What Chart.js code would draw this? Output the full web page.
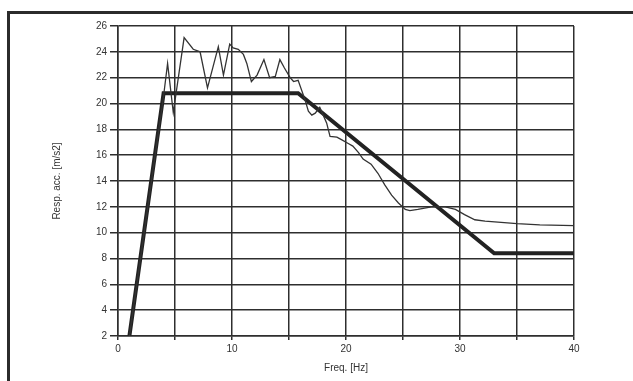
<!DOCTYPE html>
<html>
<head>
<meta charset="utf-8">
<script src="https://cdn.jsdelivr.net/npm/chart.js@4.4.1/dist/chart.umd.min.js"></script>
<style>
    body { margin: 0; background: #fff; }
    #wrap { position: relative; width: 633px; height: 381px; overflow: hidden; }
    #frame {
        position: absolute; left: 7px; top: 11px; width: 700px; height: 500px;
        border-top: 3px solid #2b2b2b; border-left: 3px solid #2b2b2b;
    }
    canvas { position: absolute; left: 0; top: 0; }
</style>
</head>
<body>
<div id="wrap">
    <div id="frame"></div>
    <canvas id="specChart" width="633" height="381"></canvas>
</div>
<script>
// Design spectrum (thick line)
const specFreq = [1, 4, 15.8, 33, 40];
const specAcc = [2, 20.8, 20.8, 8.4, 8.4];

// Response spectrum (thin line)
const respFreq = [1, 4.0, 4.35, 4.85, 5.8, 6.6, 7.2, 7.85, 8.8, 9.25, 9.8, 10.1, 10.55, 11.0, 11.3, 11.7,
    12.2, 12.8, 13.3, 13.8, 14.2, 14.6, 15.1, 15.4, 15.8, 16.4, 16.7, 17.0, 17.3, 17.7, 18.3, 18.6,
    19.2, 19.6, 20.2, 20.6, 21.1, 21.5, 22.2, 22.8, 23.4, 24.0, 24.6, 25.2, 25.6, 26.3, 27.5, 28.7,
    29.6, 30.4, 31.3, 32.2, 35, 37, 40];
const respAcc = [2, 20.6, 23.1, 19.3, 25.1, 24.2, 24.0, 21.2, 24.4, 22.2, 24.6, 24.3, 24.2, 23.8, 23.1, 21.7,
    22.2, 23.4, 22.0, 22.1, 23.4, 22.75, 22.0, 21.7, 21.8, 20.3, 19.4, 19.1, 19.25, 19.7, 18.5, 17.45,
    17.4, 17.2, 16.9, 16.7, 16.2, 15.7, 15.3, 14.6, 13.7, 12.9, 12.3, 11.8, 11.7, 11.8, 12.0, 12.0,
    11.8, 11.4, 11.0, 10.9, 10.7, 10.6, 10.55];

// Axis ticks
const xTickLabels = [0, 10, 20, 30, 40];
const yTicks = [2, 4, 6, 8, 10, 12, 14, 16, 18, 20, 22, 24, 26];

function toPoints(xs, ys) {
    return xs.map((x, i) => ({ x: x, y: ys[i] }));
}

const gridColor = '#2e2e2e';
const labelFont = { family: 'Liberation Sans', size: 10 };

new Chart(document.getElementById('specChart').getContext('2d'), {
    type: 'scatter',
    data: {
        datasets: [
            {
                label: 'Response',
                data: toPoints(respFreq, respAcc),
                showLine: true,
                borderColor: '#333',
                borderWidth: 1.3,
                pointRadius: 0,
                tension: 0
            },
            {
                label: 'Spectrum',
                data: toPoints(specFreq, specAcc),
                showLine: true,
                borderColor: '#222',
                borderWidth: 4,
                pointRadius: 0,
                tension: 0
            }
        ]
    },
    options: {
        responsive: false,
        animation: false,
        layout: { padding: { left: 0, top: 26, right: 59, bottom: 0 } },
        plugins: {
            legend: { display: false },
            tooltip: { enabled: false }
        },
        scales: {
            x: {
                type: 'linear',
                min: 0,
                max: 40,
                afterFit: function(scale) { scale.height = 45; },
                ticks: {
                    stepSize: 5,
                    padding: 3,
                    color: '#333',
                    font: labelFont,
                    maxRotation: 0,
                    callback: function(value) {
                        return xTickLabels.includes(value) ? String(value) : '';
                    }
                },
                grid: { color: gridColor, lineWidth: 1.5, tickLength: 4 },
                border: { color: gridColor, width: 1.5 },
                title: {
                    display: true,
                    text: 'Freq. [Hz]',
                    color: '#333',
                    font: labelFont,
                    padding: { top: 0, bottom: 7 }
                }
            },
            y: {
                type: 'linear',
                min: 2,
                max: 26,
                afterFit: function(scale) { scale.width = 118; },
                afterBuildTicks: function(scale) {
                    scale.ticks = yTicks.map(v => ({ value: v }));
                },
                ticks: {
                    padding: 3,
                    color: '#333',
                    font: labelFont
                },
                grid: { color: gridColor, lineWidth: 1.5, tickLength: 8 },
                border: { color: gridColor, width: 1.5 },
                title: {
                    display: true,
                    text: 'Resp. acc. [m/s2]',
                    color: '#333',
                    font: labelFont,
                    padding: { top: 51, bottom: 0 }
                }
            }
        }
    }
});
</script>
</body>
</html>
